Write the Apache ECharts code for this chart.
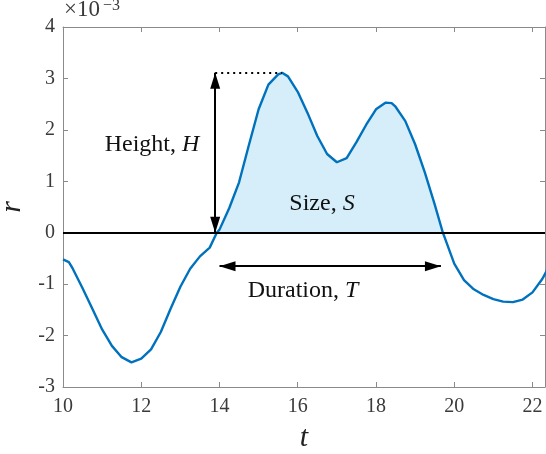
<!DOCTYPE html>
<html>
<head>
<meta charset="utf-8">
<script src="https://cdn.jsdelivr.net/npm/echarts@6/dist/echarts.min.js"></script>
<style>
  html, body { margin: 0; padding: 0; background: #fff; }
  #chart { width: 546px; height: 454px; }
</style>
</head>
<body>
<div id="chart"></div>
<script>
// Time samples t and response r (in units of 1e-3); zero crossings included.
const tValues = [10.0, 10.15, 10.25, 10.5, 10.75, 11.0, 11.25, 11.5, 11.75, 12.0, 12.25, 12.5, 12.75,
  13.0, 13.25, 13.5, 13.75, 13.93, 14.0, 14.25, 14.5, 14.75, 15.0, 15.25, 15.5, 15.6, 15.75,
  16.0, 16.25, 16.5, 16.75, 17.0, 17.25, 17.5, 17.75, 18.0, 18.25, 18.4, 18.5, 18.75,
  19.0, 19.25, 19.5, 19.71, 19.75, 20.0, 20.25, 20.5, 20.75, 21.0, 21.25, 21.5, 21.75,
  22.0, 22.25, 22.5];
const rValues = [-0.52, -0.57, -0.70, -1.08, -1.48, -1.88, -2.20, -2.42, -2.52, -2.45, -2.27, -1.93, -1.48,
  -1.05, -0.70, -0.46, -0.29, 0.0, 0.06, 0.48, 0.98, 1.70, 2.40, 2.88, 3.08, 3.11, 3.04,
  2.74, 2.33, 1.88, 1.53, 1.37, 1.45, 1.76, 2.10, 2.40, 2.53, 2.52, 2.45, 2.17,
  1.72, 1.17, 0.55, 0.0, -0.08, -0.60, -0.92, -1.10, -1.21, -1.29, -1.34, -1.35, -1.30,
  -1.16, -0.90, -0.55];

// Event window (start/end of the positive excursion) and its peak
const eventStart = 13.93;
const eventEnd = 19.71;
const peakT = 15.6;
const peakR = 3.11;
const durationY = -0.65;        // level of the duration arrow
const heightArrowT = 13.89;     // position of the height arrow
const durationArrow = [14.0, 19.66];

const xTicks = [10, 12, 14, 16, 18, 20, 22];
const yTicks = [-3, -2, -1, 0, 1, 2, 3, 4];

const curve = tValues.map((t, i) => [t, rValues[i]]);
const eventCurve = curve.filter(p => p[0] >= eventStart && p[0] <= eventEnd);

const serif = 'Liberation Serif';
const spine = '#8a8a8a';
const labelColor = '#3a3a3a';

const chart = echarts.init(document.getElementById('chart'), null, { renderer: 'canvas' });

const xCommon = {
  type: 'value', min: 10, max: 22.32, interval: 2,
  axisLine: { show: true, onZero: false, lineStyle: { color: spine, width: 1 } },
  axisTick: { show: true, inside: true, length: 5, lineStyle: { color: spine } },
  splitLine: { show: false }
};
const yCommon = {
  type: 'value', min: yTicks[0], max: yTicks[yTicks.length - 1], interval: 1,
  axisLine: { show: true, onZero: false, lineStyle: { color: spine, width: 1 } },
  axisTick: { show: true, inside: true, length: 5, lineStyle: { color: spine } },
  splitLine: { show: false }
};

// arrow heads: filled triangle whose tip sits at the end point
const head = 'path://M0,0 L5,16 L-5,16 Z';

const annotationText = (x, y, text) => ({
  type: 'text', x: x, y: y, z: 100,
  style: {
    text: text, align: 'center', verticalAlign: 'middle',
    fontSize: 24, fontFamily: serif, fill: '#111',
    rich: { i: { fontStyle: 'italic', fontSize: 24, fontFamily: serif, fill: '#111' } }
  }
});

chart.setOption({
  animation: false,
  grid: { left: 63, right: 1, top: 27, bottom: 67, containLabel: false, outerBoundsMode: 'none' },
  xAxis: [
    Object.assign({}, xCommon, {
      position: 'bottom',
      name: 't', nameLocation: 'middle', nameGap: 36,
      nameTextStyle: { fontFamily: serif, fontStyle: 'italic', fontSize: 30, color: '#222' },
      axisLabel: {
        show: true, margin: 10, fontFamily: serif, fontSize: 20, color: labelColor,
        showMaxLabel: false,
        formatter: v => (xTicks.indexOf(v) >= 0 ? String(v) : '')
      }
    }),
    Object.assign({}, xCommon, { position: 'top', axisLabel: { show: false } })
  ],
  yAxis: [
    Object.assign({}, yCommon, {
      position: 'left',
      name: 'r', nameLocation: 'middle', nameGap: 33, nameRotate: 90,
      nameTextStyle: { fontFamily: serif, fontStyle: 'italic', fontSize: 30, color: '#222' },
      axisLabel: {
        show: true, margin: 8, fontFamily: serif, fontSize: 20, color: labelColor,
        formatter: v => (yTicks.indexOf(v) >= 0 ? String(v) : '')
      }
    }),
    Object.assign({}, yCommon, { position: 'right', axisLabel: { show: false } })
  ],
  series: [
    {
      // shaded event area
      type: 'line', z: 1, data: eventCurve, showSymbol: false, symbol: 'none',
      lineStyle: { width: 0, opacity: 0 },
      areaStyle: { color: '#d5eefa', opacity: 1 },
      markLine: {
        silent: true, symbol: 'none', animation: false,
        label: { show: false },
        lineStyle: { color: '#000', width: 2, type: 'solid' },
        data: [[{ coord: [10, 0] }, { coord: [22.32, 0] }]]
      }
    },
    {
      type: 'line', z: 3, data: curve, showSymbol: false, symbol: 'none',
      lineStyle: { color: '#0072BD', width: 2.4 },
      markLine: {
        silent: true, animation: false,
        label: { show: false },
        data: [
          [
            { coord: [heightArrowT, peakR], symbol: 'none',
              lineStyle: { color: '#000', width: 2, type: [2, 4] } },
            { coord: [peakT, peakR], symbol: 'none' }
          ],
          [
            { coord: [heightArrowT, peakR], symbol: head, symbolSize: [10, 16], symbolOffset: [0, '50%'],
              lineStyle: { color: '#000', width: 2, type: 'solid' } },
            { coord: [heightArrowT, 0], symbol: head, symbolSize: [10, 16], symbolOffset: [0, '50%'] }
          ],
          [
            { coord: [durationArrow[0], durationY], symbol: head, symbolSize: [10, 16], symbolOffset: [0, '50%'],
              lineStyle: { color: '#000', width: 2, type: 'solid' } },
            { coord: [durationArrow[1], durationY], symbol: head, symbolSize: [10, 16], symbolOffset: [0, '50%'] }
          ]
        ],
        itemStyle: { color: '#000' }
      }
    }
  ],
  graphic: [
    // axis exponent: ×10^−3
    {
      type: 'text', x: 64, y: 21, z: 100,
      style: { text: '×10', fontSize: 23, fontFamily: serif, fill: labelColor, verticalAlign: 'bottom' }
    },
    {
      type: 'text', x: 103, y: 14, z: 100,
      style: { text: '−3', fontSize: 16, fontFamily: serif, fill: labelColor, verticalAlign: 'bottom' }
    },
    annotationText(152, 145, 'Height, {i|H}'),
    annotationText(322, 204, 'Size, {i|S}'),
    annotationText(303, 291, 'Duration, {i|T}')
  ]
});
</script>
</body>
</html>
